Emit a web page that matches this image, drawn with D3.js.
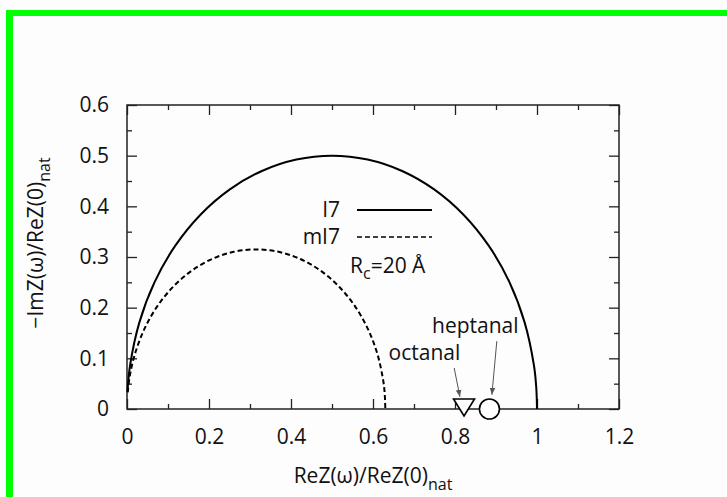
<!DOCTYPE html>
<html>
<head>
<meta charset="utf-8">
<script src="https://cdn.jsdelivr.net/npm/d3@7"></script>
<style>
  body { margin: 0; background: #fdfdfd; }
  svg { display: block; }
  text { font-family: "Open Sans", sans-serif; fill: #111; }
</style>
</head>
<body>
<div class="chart"></div>
<script>
// solid curve (I7)
var i7X = [0.0012, 0.0076, 0.0302, 0.067, 0.117, 0.1786, 0.25, 0.329, 0.4132, 0.5,
           0.5868, 0.671, 0.75, 0.8214, 0.883, 0.933, 0.9698, 0.9924, 0.9981, 1.0];
var i7Y = [0.0349, 0.0868, 0.171, 0.25, 0.3214, 0.383, 0.433, 0.4698, 0.4924, 0.5,
           0.4924, 0.4698, 0.433, 0.383, 0.3214, 0.25, 0.171, 0.0868, 0.0436, 0];

// dashed curve (mI7)
var mi7X = [0.0017, 0.0069, 0.019, 0.0422, 0.0737, 0.1125, 0.1575, 0.2073, 0.2603, 0.315,
            0.3697, 0.4227, 0.4725, 0.5175, 0.5563, 0.5878, 0.611, 0.6252, 0.6288, 0.63];
var mi7Y = [0.0329, 0.0655, 0.1077, 0.1575, 0.2025, 0.2413, 0.2728, 0.296, 0.3102, 0.315,
            0.3102, 0.296, 0.2728, 0.2413, 0.2025, 0.1575, 0.1077, 0.0547, 0.0275, 0];

// odorant markers
var odorNames = ['octanal', 'heptanal'];
var odorX = [0.822, 0.884];
var odorY = [0, 0];
var odorShape = ['triangle', 'circle'];
// label and arrow positions in data units
var labelX = [0.638, 0.744];
var labelY = [0.097, 0.150];
var arrowFromX = [0.798, 0.902];
var arrowFromY = [0.081, 0.134];
var arrowToX = [0.812, 0.890];
var arrowToY = [0.024, 0.028];

var xTicks = [0, 0.2, 0.4, 0.6, 0.8, 1, 1.2];
var xTickLabels = ['0', '0.2', '0.4', '0.6', '0.8', '1', '1.2'];
var yTicks = [0, 0.1, 0.2, 0.3, 0.4, 0.5, 0.6];
var yTickLabels = ['0', '0.1', '0.2', '0.3', '0.4', '0.5', '0.6'];

var W = 727, H = 497;
var margin = { top: 105, right: 108, bottom: 88, left: 127 };
var width = W - margin.left - margin.right;
var height = H - margin.top - margin.bottom;
var fs = '21px';

var root = d3.select('.chart')
  .append('svg')
    .attr('width', W)
    .attr('height', H);

// green frame (top and left edges)
root.append('rect').attr('x', 6).attr('y', 10).attr('width', W - 6).attr('height', 6).attr('fill', '#00ff00');
root.append('rect').attr('x', 6).attr('y', 10).attr('width', 7).attr('height', H - 10).attr('fill', '#00ff00');

var svg = root.append('g')
  .attr('transform', `translate(${margin.left}, ${margin.top})`);

var x = d3.scaleLinear().domain([0, 1.2]).range([0, width]);
var y = d3.scaleLinear().domain([0, 0.6]).range([height, 0]);

var minorX = d3.range(0.1, 1.2, 0.2);
var minorY = d3.range(0.05, 0.6, 0.1);

function styleAxis(g) {
  g.select('.domain').remove();
  g.selectAll('line').attr('stroke', '#222').attr('stroke-width', 1.3);
  g.selectAll('text').style('font-size', fs).attr('fill', '#111')
    .style('font-family', '"Open Sans", sans-serif');
}

// major ticks with labels
svg.append('g').attr('transform', `translate(0, ${height})`)
  .call(d3.axisBottom(x).tickValues(xTicks).tickFormat((d, i) => xTickLabels[i])
    .tickSizeInner(-10).tickSizeOuter(0).tickPadding(20))
  .call(styleAxis);
svg.append('g')
  .call(d3.axisLeft(y).tickValues(yTicks).tickFormat((d, i) => yTickLabels[i])
    .tickSizeInner(-10).tickSizeOuter(0).tickPadding(18))
  .call(styleAxis);
svg.append('g')
  .call(d3.axisTop(x).tickValues(xTicks).tickFormat('').tickSizeInner(-10).tickSizeOuter(0))
  .call(styleAxis);
svg.append('g').attr('transform', `translate(${width}, 0)`)
  .call(d3.axisRight(y).tickValues(yTicks).tickFormat('').tickSizeInner(-10).tickSizeOuter(0))
  .call(styleAxis);

// minor ticks
svg.append('g').attr('transform', `translate(0, ${height})`)
  .call(d3.axisBottom(x).tickValues(minorX).tickFormat('').tickSizeInner(-5).tickSizeOuter(0))
  .call(styleAxis);
svg.append('g')
  .call(d3.axisTop(x).tickValues(minorX).tickFormat('').tickSizeInner(-5).tickSizeOuter(0))
  .call(styleAxis);
svg.append('g')
  .call(d3.axisLeft(y).tickValues(minorY).tickFormat('').tickSizeInner(-5).tickSizeOuter(0))
  .call(styleAxis);
svg.append('g').attr('transform', `translate(${width}, 0)`)
  .call(d3.axisRight(y).tickValues(minorY).tickFormat('').tickSizeInner(-5).tickSizeOuter(0))
  .call(styleAxis);

// frame
svg.append('rect')
  .attr('width', width).attr('height', height)
  .attr('fill', 'none').attr('stroke', '#222').attr('stroke-width', 1.5);

var line = d3.line()
  .x(d => x(d[0]))
  .y(d => y(d[1]))
  .curve(d3.curveCatmullRom);

svg.append('path')
  .datum(d3.zip(i7X, i7Y))
  .attr('d', line)
  .attr('fill', 'none').attr('stroke', '#000').attr('stroke-width', 2);

svg.append('path')
  .datum(d3.zip(mi7X, mi7Y))
  .attr('d', line)
  .attr('fill', 'none').attr('stroke', '#000').attr('stroke-width', 2)
  .attr('stroke-dasharray', '5,3');

// arrowhead
root.append('defs').append('marker')
  .attr('id', 'head')
  .attr('viewBox', '0 0 10 10')
  .attr('refX', 10).attr('refY', 5)
  .attr('markerWidth', 7).attr('markerHeight', 7)
  .attr('orient', 'auto')
  .append('path').attr('d', 'M0,1 L10,5 L0,9 z').attr('fill', '#555');

svg.selectAll('.arrow')
  .data(odorNames)
  .enter()
  .append('line')
  .attr('class', 'arrow')
  .attr('x1', (d, i) => x(arrowFromX[i]))
  .attr('y1', (d, i) => y(arrowFromY[i]))
  .attr('x2', (d, i) => x(arrowToX[i]))
  .attr('y2', (d, i) => y(arrowToY[i]))
  .attr('stroke', '#555').attr('stroke-width', 1)
  .attr('marker-end', 'url(#head)');

svg.selectAll('.odor-label')
  .data(odorNames)
  .enter()
  .append('text')
  .attr('class', 'odor-label')
  .attr('x', (d, i) => x(labelX[i]))
  .attr('y', (d, i) => y(labelY[i]))
  .style('font-size', fs)
  .text(d => d);

// markers
odorNames.forEach(function (name, i) {
  var cx = x(odorX[i]), cy = y(odorY[i]);
  if (odorShape[i] === 'circle') {
    svg.append('circle').attr('cx', cx).attr('cy', cy).attr('r', 10)
      .attr('fill', '#fff').attr('stroke', '#000').attr('stroke-width', 1.6);
  } else {
    svg.append('path')
      .attr('d', `M${cx - 10.5},${cy - 10} L${cx + 10.5},${cy - 10} L${cx},${cy + 7} Z`)
      .attr('fill', '#fff').attr('stroke', '#000').attr('stroke-width', 1.6);
  }
});

// legend
var legend = root.append('g');
legend.append('text').attr('x', 340).attr('y', 217).attr('text-anchor', 'end')
  .style('font-size', fs).text('I7');
legend.append('line').attr('x1', 357).attr('x2', 432).attr('y1', 210).attr('y2', 210)
  .attr('stroke', '#000').attr('stroke-width', 2);
legend.append('text').attr('x', 340).attr('y', 244).attr('text-anchor', 'end')
  .style('font-size', fs).text('mI7');
legend.append('line').attr('x1', 357).attr('x2', 432).attr('y1', 237).attr('y2', 237)
  .attr('stroke', '#000').attr('stroke-width', 1.5).attr('stroke-dasharray', '5,3');
var rc = legend.append('text').attr('x', 350).attr('y', 273).style('font-size', fs);
rc.append('tspan').text('R');
rc.append('tspan').attr('dy', 6).style('font-size', '16px').text('c');
rc.append('tspan').attr('dy', -6).text('=20 Å');

// axis titles
var xt = root.append('text')
  .attr('x', margin.left + width / 2).attr('y', 483)
  .attr('text-anchor', 'middle').style('font-size', fs);
xt.append('tspan').text('ReZ(ω)/ReZ(0)');
xt.append('tspan').attr('dy', 7).style('font-size', '16px').text('nat');

var yt = root.append('text')
  .attr('transform', 'translate(43, 243) rotate(-90)')
  .attr('text-anchor', 'middle').style('font-size', fs);
yt.append('tspan').text('−ImZ(ω)/ReZ(0)');
yt.append('tspan').attr('dy', 7).style('font-size', '16px').text('nat');
</script>
</body>
</html>
